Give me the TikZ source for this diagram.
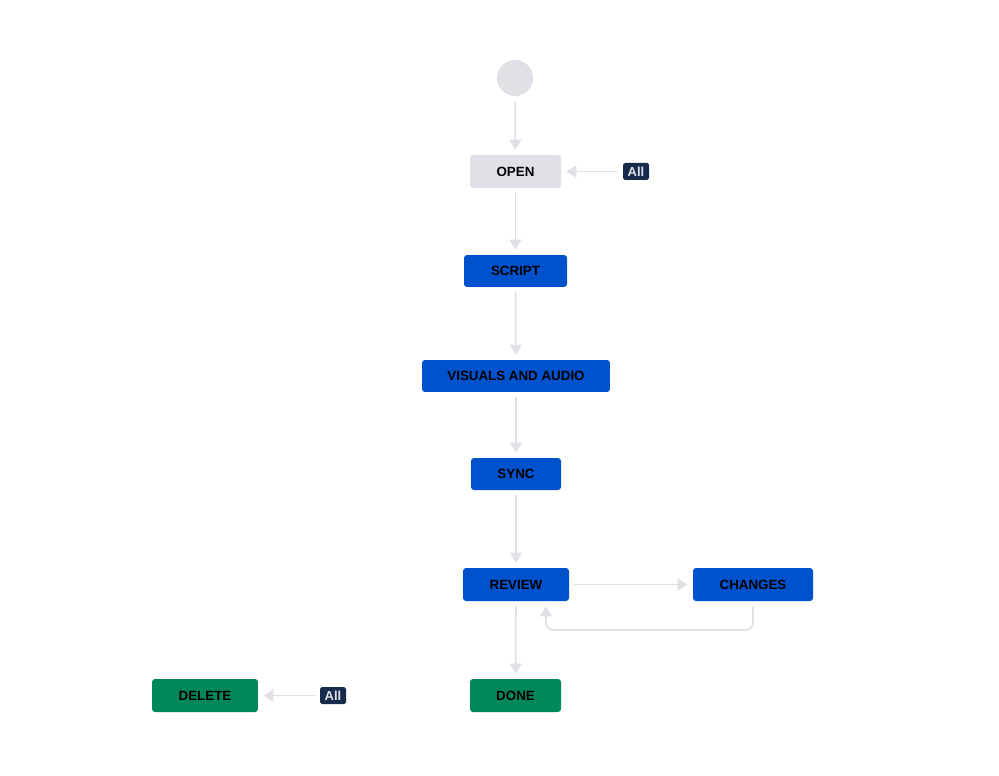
\documentclass[tikz,border=0pt]{standalone}
\usepackage{fontspec}
\setmainfont{Liberation Sans}
\usepackage{tikz}
\usetikzlibrary{arrows.meta,calc}
\definecolor{cGrey}{RGB}{223,225,230}
\definecolor{cBlue}{RGB}{0,82,204}
\definecolor{cGrn}{RGB}{0,135,90}
\definecolor{cNavy}{RGB}{23,43,77}
\definecolor{cLine}{RGB}{223,225,230}

\begin{document}
\begin{tikzpicture}[x=0.02cm, y=-0.02cm,
  box/.style={rounded corners=1.7pt, font=\fontsize{7.6}{9}\selectfont\bfseries,
              text=black, minimum height=0.66cm, inner sep=2pt},
  todo/.style={box, fill=cGrey},
  prog/.style={box, fill=cBlue, minimum height=0.64cm},
  fin/.style={box, fill=cGrn},
  anyst/.style={fill=cNavy, text=cGrey, rounded corners=1pt, inner sep=0pt,
                minimum width=0.52cm, minimum height=0.34cm,
                font=\fontsize{7.4}{8}\selectfont\bfseries},
  arr/.style={-{Triangle[length=2mm, width=2.4mm]}, draw=cLine, line width=1pt,
              shorten >=1mm, shorten <=1mm}]
\useasboundingbox (0,0) rectangle (999,776);
\node[circle, fill=cGrey, minimum size=0.72cm, inner sep=0pt] (start) at (515,78) {};
\node[todo, minimum width=1.82cm] (open) at (515.5,171.5) {OPEN};
\node[anyst] (all1) at (636,171.5) {All};
\node[prog, minimum width=2.06cm] (script) at (515.5,271) {SCRIPT};
\node[prog, minimum width=3.76cm] (visual) at (516,376) {VISUALS AND AUDIO};
\node[prog, minimum width=1.80cm] (sync) at (516,474) {SYNC};
\node[prog, minimum width=2.12cm, minimum height=0.66cm] (review) at (516,584.5) {REVIEW};
\node[prog, minimum width=2.40cm, minimum height=0.66cm] (changes) at (753,584.5) {CHANGES};
\node[fin, minimum width=1.82cm] (done) at (515.5,695.5) {DONE};
\node[fin, minimum width=2.12cm] (delete) at (205,695.5) {DELETE};
\node[anyst] (all2) at (333,695.5) {All};
\coordinate (back) at (546,630);
\draw[arr] (start) -- (open);
\draw[arr] (all1) -- (open);
\draw[arr] (open) -- (script);
\draw[arr] (script) -- (visual);
\draw[arr] (visual) -- (sync);
\draw[arr] (sync) -- (review);
\draw[arr] (review) -- (changes);
\draw[arr, rounded corners=4pt] (changes.south) |- (back) -- (back |- review.south);
\draw[arr] (review) -- (done);
\draw[arr] (all2) -- (delete);
\end{tikzpicture}
\end{document}
